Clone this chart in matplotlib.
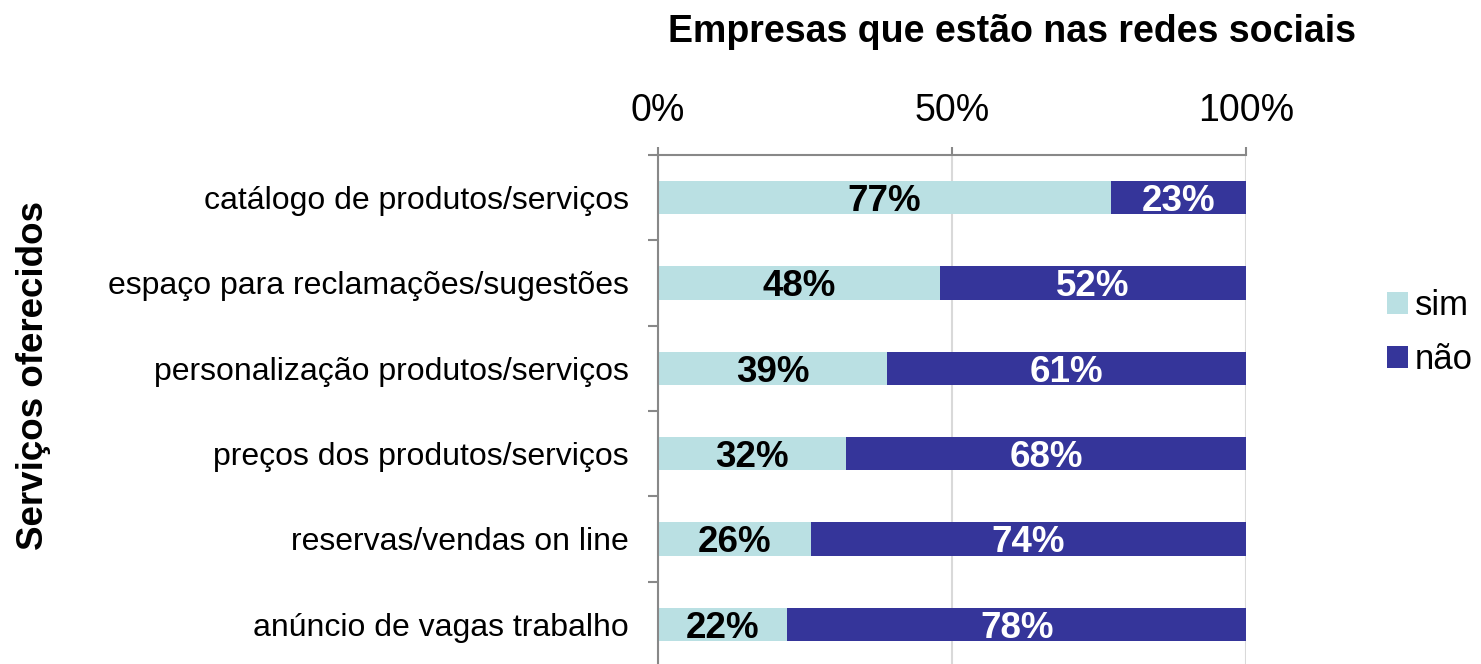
import numpy as np
import matplotlib.pyplot as plt

plt.rcParams['font.family'] = ['Liberation Sans', 'DejaVu Sans']

categorias = ['catálogo de produtos/serviços',
              'espaço para reclamações/sugestões',
              'personalização produtos/serviços',
              'preços dos produtos/serviços',
              'reservas/vendas on line',
              'anúncio de vagas trabalho']
sim = [77, 48, 39, 32, 26, 22]
nao = [23, 52, 61, 68, 74, 78]
xticks = [0, 50, 100]
xtick_labels = ['0%', '50%', '100%']

cor_sim = '#BAE0E3'
cor_nao = '#35359A'


def main():
    fig = plt.figure(figsize=(14.81, 6.64), dpi=100)
    ax = fig.add_axes([0.4443, -0.0045, 0.3970, 0.7711])

    y = np.arange(len(categorias))
    ax.barh(y, sim, height=0.39, color=cor_sim, label='sim', zorder=2)
    ax.barh(y, nao, left=sim, height=0.39, color=cor_nao, label='não', zorder=2)

    for i in y:
        ax.text(sim[i] / 2, i, '%d%%' % sim[i], ha='center', va='center_baseline',
                fontsize=26.5, fontweight='bold', color='black', zorder=3)
        ax.text(sim[i] + nao[i] / 2, i, '%d%%' % nao[i], ha='center', va='center_baseline',
                fontsize=26.5, fontweight='bold', color='white', zorder=3)

    ax.set_xlim(0, 100)
    ax.set_ylim(len(categorias) - 0.5, -0.5)

    # x axis on top
    ax.xaxis.tick_top()
    ax.set_xticks(xticks)
    ax.set_xticklabels(xtick_labels, fontsize=27)
    ax.tick_params(axis='x', direction='out', length=6, width=1.5, color='#888888', pad=13)
    ax.grid(axis='x', color='#D9D9D9', linewidth=1.5, zorder=0)

    # y ticks between categories, labels at centres
    ax.set_yticks(np.arange(-0.5, len(categorias), 1))
    ax.set_yticklabels([])
    ax.set_yticks(y, minor=True)
    ax.set_yticklabels(categorias, minor=True, fontsize=23)
    ax.tick_params(axis='y', which='major', direction='out', length=7, width=1.5, color='#888888')
    ax.tick_params(axis='y', which='minor', length=0, pad=21)

    for s in ['right', 'bottom']:
        ax.spines[s].set_visible(False)
    ax.spines['top'].set_color('#888888')
    ax.spines['top'].set_linewidth(1.5)
    ax.spines['left'].set_color('#888888')
    ax.spines['left'].set_linewidth(1.5)

    fig.text(0.6830, 0.952, 'Empresas que estão nas redes sociais', ha='center', va='center',
             fontsize=27, fontweight='bold')
    fig.text(0.0223, 0.435, 'Serviços oferecidos', ha='center', va='center', rotation=90,
             fontsize=26.5, fontweight='bold')

    ax.legend(loc='center left', bbox_to_anchor=(1.217, 0.653), frameon=False, fontsize=25,
              handlelength=0.6, handleheight=0.6, handletextpad=0.2, labelspacing=0.62,
              borderaxespad=0)

    fig.savefig('out.png', dpi=100)


if __name__ == "__main__":
    main()
